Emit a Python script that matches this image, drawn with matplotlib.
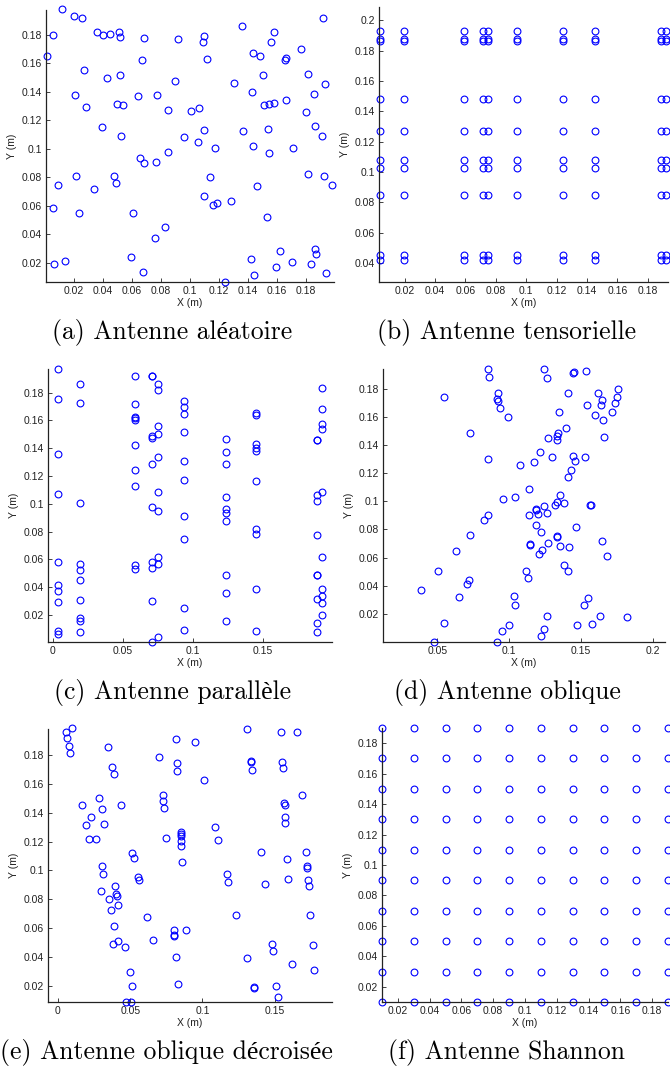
import numpy as np
import matplotlib
matplotlib.use("Agg")
import matplotlib.pyplot as plt
from matplotlib.ticker import FuncFormatter

# ---------------- data ----------------
# (a) random antenna
a_x = [0.0116, 0.0197, 0.0255, 0.0051, 0.0357, 0.0401, 0.0450, 0.0506, 0.0513, 0.0682,
       0.0918, 0.1097, 0.1088, 0.1359, 0.1577, 0.1563, 0.1916, 0.1767, 0.0009, 0.0670,
       0.1118, 0.1433, 0.1482, 0.1663, 0.1658, 0.0271, 0.0424, 0.0513, 0.0895, 0.1306,
       0.1507, 0.1814, 0.1932, 0.0202, 0.0283, 0.0494, 0.0538, 0.0640, 0.0775, 0.0846,
       0.1004, 0.1062, 0.1426, 0.1510, 0.1547, 0.1579, 0.1660, 0.1860, 0.1804, 0.0392,
       0.0524, 0.1095, 0.0960, 0.1055, 0.1176, 0.1364, 0.1540, 0.1865, 0.1911, 0.1438,
       0.1549, 0.1709, 0.0849, 0.0656, 0.0679, 0.0763, 0.0088, 0.0209, 0.0336, 0.0475,
       0.0487, 0.1139, 0.1461, 0.1816, 0.1927, 0.1980, 0.0056, 0.0234, 0.0603, 0.1099,
       0.1160, 0.1185, 0.1285, 0.1535, 0.0826, 0.0761, 0.0063, 0.0137, 0.0591, 0.0673,
       0.1241, 0.1422, 0.1440, 0.1621, 0.1591, 0.1705, 0.1865, 0.1872, 0.1837, 0.1939]
a_y = [0.1980, 0.1930, 0.1916, 0.1800, 0.1820, 0.1797, 0.1804, 0.1818, 0.1783, 0.1776,
       0.1769, 0.1794, 0.1750, 0.1864, 0.1818, 0.1752, 0.1916, 0.1701, 0.1650, 0.1626,
       0.1629, 0.1675, 0.1654, 0.1640, 0.1621, 0.1551, 0.1500, 0.1516, 0.1479, 0.1463,
       0.1519, 0.1526, 0.1458, 0.1376, 0.1294, 0.1311, 0.1304, 0.1367, 0.1381, 0.1271,
       0.1262, 0.1285, 0.1400, 0.1306, 0.1313, 0.1318, 0.1341, 0.1383, 0.1257, 0.1150,
       0.1086, 0.1131, 0.1080, 0.1044, 0.1007, 0.1124, 0.1138, 0.1157, 0.1086, 0.1016,
       0.0970, 0.1007, 0.0974, 0.0935, 0.0897, 0.0909, 0.0743, 0.0806, 0.0720, 0.0806,
       0.0759, 0.0801, 0.0736, 0.0820, 0.0806, 0.0743, 0.0582, 0.0547, 0.0549, 0.0666,
       0.0603, 0.0619, 0.0631, 0.0523, 0.0449, 0.0371, 0.0187, 0.0213, 0.0238, 0.0131,
       0.0063, 0.0227, 0.0112, 0.0278, 0.0168, 0.0206, 0.0297, 0.0262, 0.0189, 0.0129]

# (b) tensor antenna: column x positions and row y positions
b_cols = [0.0035, 0.0198, 0.0590, 0.0713, 0.0751, 0.0938, 0.1240, 0.1454, 0.1888, 0.1922]
b_rows = [0.1931, 0.1878, 0.1865, 0.1483, 0.1269, 0.1081, 0.1024, 0.0850, 0.0455, 0.0421]

# (c) parallel antenna: one list of y values per column
c_cols = [0.0035, 0.0198, 0.0590, 0.0713, 0.0751, 0.0938, 0.1240, 0.1454, 0.1888, 0.1922]
c_ys = [
    [0.1970, 0.1757, 0.1357, 0.1072, 0.0583, 0.0418, 0.0375, 0.0296, 0.0087, 0.0063],
    [0.1860, 0.1724, 0.1007, 0.0566, 0.0523, 0.0449, 0.0305, 0.0181, 0.0157, 0.0080],
    [0.1918, 0.1716, 0.1627, 0.1618, 0.1606, 0.1422, 0.1240, 0.1129, 0.0559, 0.0531],
    [0.1922, 0.1921, 0.1488, 0.1472, 0.1285, 0.0974, 0.0580, 0.0537, 0.0300, 0.0008],
    [0.1862, 0.1817, 0.1560, 0.1503, 0.1338, 0.1084, 0.0952, 0.0619, 0.0566, 0.0040],
    [0.1738, 0.1700, 0.1647, 0.1518, 0.1309, 0.1168, 0.0911, 0.0748, 0.0253, 0.0090],
    [0.1470, 0.1374, 0.1283, 0.1046, 0.0962, 0.0931, 0.0878, 0.0490, 0.0358, 0.0154],
    [0.1656, 0.1637, 0.1431, 0.1403, 0.1379, 0.1165, 0.0820, 0.0780, 0.0384, 0.0087],
    [0.1462, 0.1460, 0.1065, 0.1017, 0.0774, 0.0488, 0.0486, 0.0312, 0.0142, 0.0078],
    [0.1833, 0.1680, 0.1575, 0.1539, 0.1084, 0.0619, 0.0387, 0.0337, 0.0284, 0.0200],
]

# (d) oblique antenna
d_x = [0.0853, 0.0860, 0.1247, 0.1268, 0.1447, 0.1452, 0.1535, 0.0550, 0.0922, 0.0913,
       0.0920, 0.0934, 0.0990, 0.1412, 0.1620, 0.1651, 0.1639, 0.1542, 0.1762, 0.1750,
       0.1737, 0.1716, 0.1602, 0.1658, 0.1662, 0.1349, 0.1398, 0.0727, 0.1342, 0.1335,
       0.1331, 0.1273, 0.0857, 0.1217, 0.1298, 0.1449, 0.1463, 0.1532, 0.1078, 0.1177,
       0.1430, 0.1410, 0.1138, 0.0957, 0.1043, 0.1356, 0.1331, 0.1321, 0.1382, 0.1565,
       0.1570, 0.1242, 0.1185, 0.1189, 0.1138, 0.1203, 0.1263, 0.0857, 0.0825, 0.1187,
       0.1222, 0.1465, 0.0730, 0.1331, 0.1333, 0.1147, 0.1145, 0.1273, 0.1357, 0.1420,
       0.1227, 0.1212, 0.1648, 0.1683, 0.0634, 0.0502, 0.1117, 0.1131, 0.1382, 0.1414,
       0.0722, 0.0704, 0.0384, 0.0653, 0.1038, 0.1041, 0.1551, 0.1523, 0.1268, 0.1637,
       0.1825, 0.0550, 0.1003, 0.0952, 0.1241, 0.1226, 0.1477, 0.1579, 0.0477, 0.0918]
d_y = [0.1940, 0.1880, 0.1940, 0.1876, 0.1914, 0.1916, 0.1928, 0.1739, 0.1770, 0.1727,
       0.1710, 0.1665, 0.1599, 0.1770, 0.1772, 0.1717, 0.1684, 0.1684, 0.1799, 0.1740,
       0.1695, 0.1634, 0.1613, 0.1575, 0.1454, 0.1634, 0.1522, 0.1484, 0.1484, 0.1463,
       0.1435, 0.1449, 0.1302, 0.1348, 0.1315, 0.1322, 0.1283, 0.1315, 0.1260, 0.1277,
       0.1220, 0.1170, 0.1084, 0.1015, 0.1029, 0.1046, 0.0997, 0.0973, 0.0989, 0.0975,
       0.0972, 0.0968, 0.0944, 0.0937, 0.0899, 0.0908, 0.0916, 0.0904, 0.0866, 0.0833,
       0.0781, 0.0819, 0.0759, 0.0750, 0.0745, 0.0693, 0.0690, 0.0707, 0.0681, 0.0672,
       0.0657, 0.0624, 0.0716, 0.0613, 0.0650, 0.0501, 0.0503, 0.0453, 0.0548, 0.0503,
       0.0444, 0.0413, 0.0368, 0.0321, 0.0328, 0.0262, 0.0314, 0.0266, 0.0188, 0.0188,
       0.0181, 0.0136, 0.0118, 0.0077, 0.0089, 0.0044, 0.0118, 0.0131, 0.0000, 0.0000]

# (e) uncrossed oblique antenna
e_x = [0.0053, 0.0062, 0.0095, 0.0074, 0.0085, 0.0344, 0.0376, 0.0388, 0.0164, 0.0286,
       0.0302, 0.0226, 0.0196, 0.0321, 0.0217, 0.0261, 0.0438, 0.0302, 0.0314, 0.0298,
       0.0395, 0.0404, 0.0406, 0.0351, 0.0418, 0.0367, 0.0390, 0.0381, 0.0413, 0.0466,
       0.0515, 0.0524, 0.0554, 0.0561, 0.0619, 0.0658, 0.0498, 0.0512, 0.0471, 0.0505,
       0.0702, 0.0815, 0.0824, 0.0826, 0.0946, 0.1011, 0.0725, 0.0727, 0.0732, 0.0748,
       0.0849, 0.0849, 0.0849, 0.0849, 0.0852, 0.0859, 0.1087, 0.1110, 0.1168, 0.1179,
       0.1235, 0.0801, 0.0801, 0.0803, 0.0884, 0.0817, 0.0833, 0.1309, 0.1334, 0.1336,
       0.1341, 0.1405, 0.1433, 0.1306, 0.1357, 0.1357, 0.1544, 0.1553, 0.1555, 0.1567,
       0.1569, 0.1572, 0.1574, 0.1585, 0.1592, 0.1657, 0.1689, 0.1717, 0.1724, 0.1726,
       0.1731, 0.1736, 0.1747, 0.1763, 0.1775, 0.1479, 0.1486, 0.1622, 0.1512, 0.1521]
e_y = [0.1958, 0.1916, 0.1986, 0.1863, 0.1812, 0.1854, 0.1717, 0.1668, 0.1453, 0.1504,
       0.1428, 0.1372, 0.1317, 0.1323, 0.1219, 0.1221, 0.1455, 0.1029, 0.0976, 0.0858,
       0.0895, 0.0837, 0.0821, 0.0800, 0.0758, 0.0723, 0.0617, 0.0492, 0.0513, 0.0471,
       0.1124, 0.1083, 0.0953, 0.0937, 0.0677, 0.0515, 0.0295, 0.0203, 0.0091, 0.0087,
       0.1784, 0.1912, 0.1745, 0.1691, 0.1888, 0.1624, 0.1525, 0.1478, 0.1430, 0.1226,
       0.1265, 0.1251, 0.1242, 0.1205, 0.1168, 0.1062, 0.1304, 0.1210, 0.0976, 0.0923,
       0.0691, 0.0589, 0.0554, 0.0548, 0.0589, 0.0402, 0.0214, 0.1981, 0.1757, 0.1752,
       0.1696, 0.1126, 0.0906, 0.0397, 0.0196, 0.0184, 0.1958, 0.1752, 0.1708, 0.1464,
       0.1456, 0.1367, 0.1332, 0.1080, 0.0943, 0.1958, 0.1523, 0.1131, 0.1031, 0.1015,
       0.0934, 0.0895, 0.0689, 0.0487, 0.0312, 0.0494, 0.0439, 0.0353, 0.0203, 0.0121]

# (f) Shannon grid
f_grid = [0.01, 0.03, 0.05, 0.07, 0.09, 0.11, 0.13, 0.15, 0.17, 0.19]

captions = ["(a) Antenne aléatoire", "(b) Antenne tensorielle",
            "(c) Antenne parallèle", "(d) Antenne oblique",
            "(e) Antenne oblique décroisée", "(f) Antenne Shannon"]

ticks_002 = [0.02, 0.04, 0.06, 0.08, 0.1, 0.12, 0.14, 0.16, 0.18]
ticks_b_y = [0.04, 0.06, 0.08, 0.1, 0.12, 0.14, 0.16, 0.18, 0.2]
ticks_005 = [0, 0.05, 0.1, 0.15]
ticks_d_x = [0.05, 0.1, 0.15, 0.2]

# ---------------- build point sets ----------------
bx, by = np.meshgrid(b_cols, b_rows)
cx = np.concatenate([[c] * len(ys) for c, ys in zip(c_cols, c_ys)])
cy = np.concatenate(c_ys)
fx, fy = np.meshgrid(f_grid, f_grid)

panels = [
    (a_x, a_y, (0.0005, 0.1995), (0.0063, 0.1975), ticks_002, ticks_002),
    (bx.ravel(), by.ravel(), (0.0031, 0.1934), (0.0274, 0.2088), ticks_002, ticks_b_y),
    (cx, cy, (-0.0033, 0.1995), (0.0006, 0.1970), ticks_005, ticks_002),
    (d_x, d_y, (0.0122, 0.2087), (0.0, 0.1940), ticks_d_x, ticks_002),
    (e_x, e_y, (-0.0069, 0.1897), (0.0089, 0.1980), ticks_005, ticks_002),
    (fx.ravel(), fy.ravel(), (0.01, 0.19), (0.01, 0.19), ticks_002, ticks_002),
]

# axes boxes in pixels: left, top, right, bottom
boxes = [
    (46, 10, 334, 282),
    (379, 7, 668, 282),
    (48, 369, 332, 642),
    (383, 369, 665, 642),
    (48, 729, 332, 1002),
    (382, 728, 668, 1002),
]
cap_pos = [(172, 332), (507, 332), (173, 692), (507, 692), (166, 1052), (506, 1052)]

W, H = 670, 1068
fig = plt.figure(figsize=(W / 100, H / 100), dpi=100)
fig.patch.set_facecolor("white")

tick_font = ["Liberation Sans", "DejaVu Sans"]
fmt = FuncFormatter(lambda v, p: ("%g" % round(v, 6)))

for (x, y, xl, yl, xt, yt), (l, t, r, b), cap, (cxp, cyp) in zip(panels, boxes, captions, cap_pos):
    ax = fig.add_axes([l / W, 1 - b / H, (r - l) / W, (b - t) / H])
    ax.plot(x, y, linestyle="none", marker="o", markersize=4.9,
            markerfacecolor="none", markeredgecolor="#0000ff",
            markeredgewidth=0.8, clip_on=False)
    ax.set_xlim(*xl)
    ax.set_ylim(*yl)
    ax.set_xticks(xt)
    ax.set_yticks(yt)
    ax.xaxis.set_major_formatter(fmt)
    ax.yaxis.set_major_formatter(fmt)
    for s in ("top", "right"):
        ax.spines[s].set_visible(False)
    for s in ("left", "bottom"):
        ax.spines[s].set_linewidth(0.9)
        ax.spines[s].set_color("#222222")
    ax.tick_params(direction="in", length=3, width=0.6, pad=3,
                   labelsize=7.5, colors="#222222", top=False, right=False)
    for lab in ax.get_xticklabels() + ax.get_yticklabels():
        lab.set_family(tick_font)
    ax.set_xlabel("X (m)", fontsize=7.5, family=tick_font, labelpad=1.5, color="#222222")
    ax.set_ylabel("Y (m)", fontsize=7.5, family=tick_font, labelpad=3, color="#222222")
    fig.text(cxp / W, 1 - cyp / H, cap, ha="center", va="center",
             fontsize=18.5, family=["cmr10", "Liberation Serif"], color="black")

fig.savefig("out.png", dpi=100, facecolor="white")
